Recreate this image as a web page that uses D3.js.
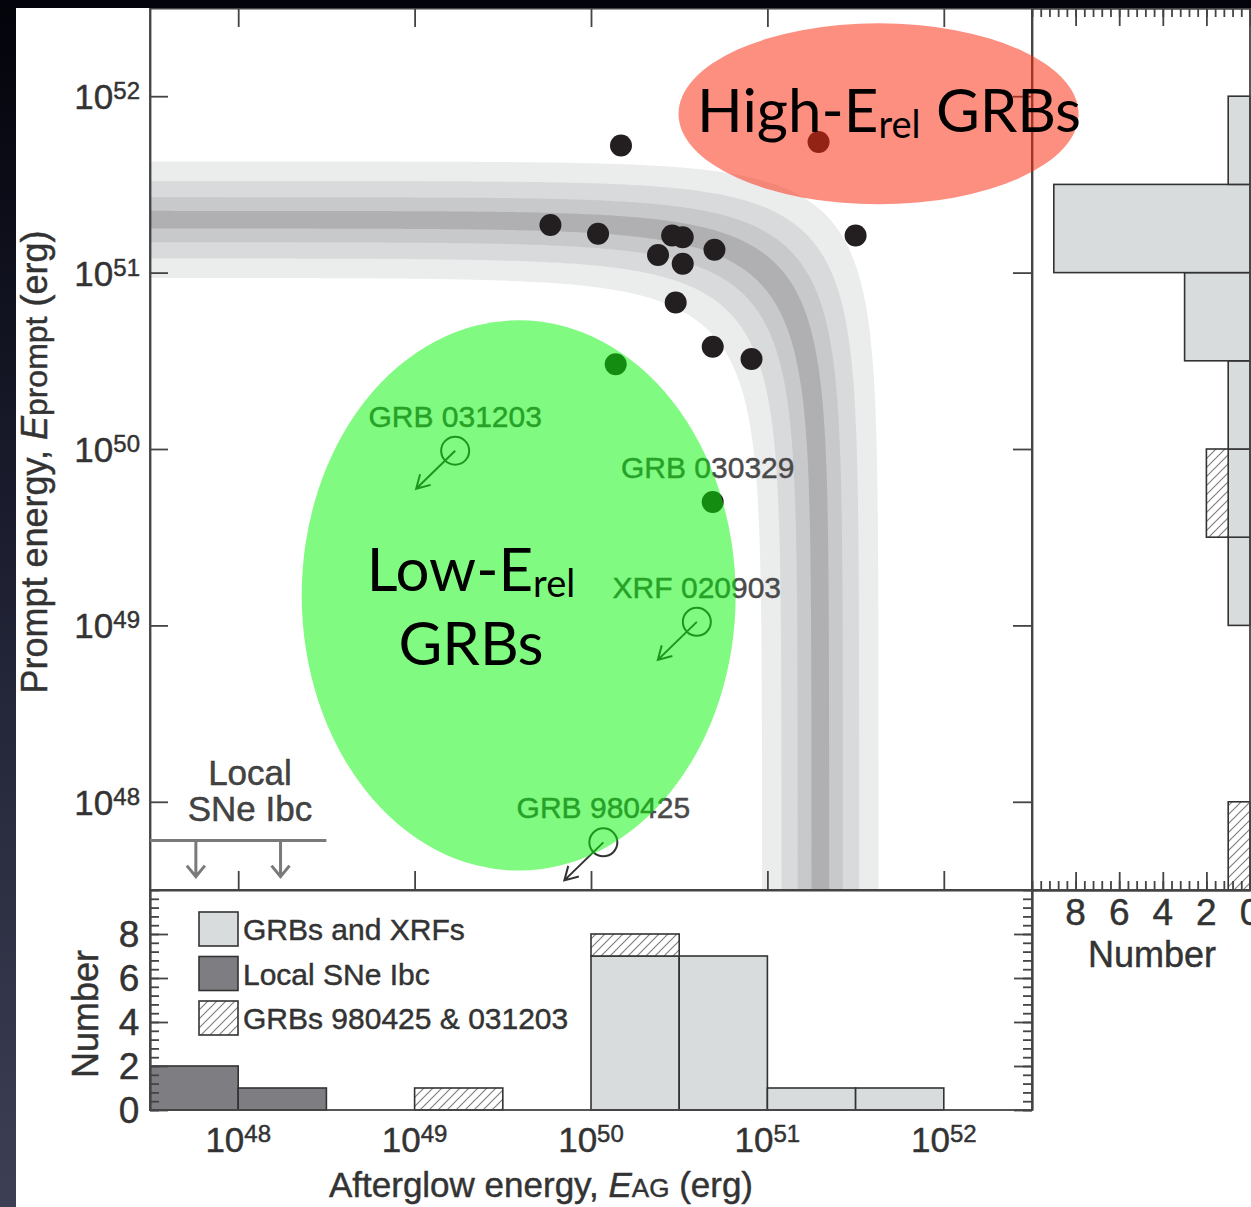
<!DOCTYPE html>
<html lang="en">
<head>
<meta charset="UTF-8">
<title>Prompt vs afterglow energy</title>
<script src="https://d3js.org/d3.v7.min.js"></script>
<style>
  body { margin: 0; background: #000; }
  svg { display: block; }
  .fig { stroke: #333; stroke-width: 0.45; }
</style>
</head>
<body>
<script>

// log10 energies (erg)
const grbAG     = [50.17, 49.77, 50.04, 50.46, 50.52, 50.38, 50.52, 50.70, 50.48, 50.69, 50.91, 51.50, 51.29, 50.14, 50.69];
const grbPrompt = [51.72, 51.27, 51.22, 51.21, 51.20, 51.10, 51.05, 51.13, 50.83, 50.58, 50.51, 51.21, 51.74, 50.48, 49.70];

// upper limits (open circle + arrow)
const ulName   = ['GRB 031203', 'XRF 020903', 'GRB 980425'];
const ulAG     = [49.23, 50.60, 50.07];
const ulPrompt = [49.99, 49.02, 47.77];

// labelled detection
const detName   = ['GRB 030329'];
const detAG     = [50.69];
const detPrompt = [49.70];

// local SNe Ibc limits
const sneAG = [47.76, 48.24];
const sneSpan = [47.5, 48.5];
const snePrompt = 47.78;

// histograms, half-decade bins
const binEdges = [47.5, 48, 48.5, 49, 49.5, 50, 50.5, 51, 51.5, 52];
const agGRB = [0, 0, 0, 0, 0, 7, 7, 1, 1];
const agSNe = [2, 1, 0, 0, 0, 0, 0, 0, 0];
const agPec = [0, 0, 0, 1, 0, 1, 0, 0, 0];
const promptGRB = [0, 0, 0, 1, 1, 1, 3, 9, 1];
const promptSNe = [0, 0, 0, 0, 0, 0, 0, 0, 0];
const promptPec = [1, 0, 0, 0, 1, 0, 0, 0, 0];

const legendNames = ['GRBs and XRFs', 'Local SNe Ibc', 'GRBs 980425 & 031203'];

// constant total energy band E_prompt + E_AG = 10^c
const bandCenter = 51.3;
const bandHalfWidth = [0.33, 0.22, 0.128, 0.05];
const bandColor = ['#ebecec', '#d9dadc', '#c8c9cb', '#b0b0b3'];

const decades = [48, 49, 50, 51, 52];
const countTicks = [0, 2, 4, 6, 8];

// ---------------------------------------------------------------

const W = 1251, H = 1207;
const L = 150, R = 1032, T = 8, B = 890, HB = 1110, RR = 1250;
const font = "'Liberation Sans', Arial, sans-serif";
const ink = '#444';

const svg = d3.select('body').append('svg').attr('width', W).attr('height', H);
const defs = svg.append('defs');

const grad = defs.append('linearGradient').attr('id', 'side')
  .attr('x1', 0).attr('y1', 0).attr('x2', 0).attr('y2', 1);
grad.append('stop').attr('offset', '0%').attr('stop-color', '#03030a');
grad.append('stop').attr('offset', '45%').attr('stop-color', '#1c1e30');
grad.append('stop').attr('offset', '100%').attr('stop-color', '#3d4055');

const hatch = defs.append('pattern').attr('id', 'hatch')
  .attr('patternUnits', 'userSpaceOnUse').attr('width', 9).attr('height', 9);
hatch.append('rect').attr('width', 9).attr('height', 9).attr('fill', '#fff');
hatch.append('path').attr('d', 'M-2,2 l4,-4 M0,9 l9,-9 M7,11 l4,-4')
  .attr('stroke', '#808080').attr('stroke-width', 1.2);

defs.append('clipPath').attr('id', 'plotClip')
  .append('rect').attr('x', L).attr('y', T).attr('width', R - L).attr('height', B - T);

svg.append('rect').attr('width', W).attr('height', H).attr('fill', '#fff');

const x = d3.scaleLog().domain([10 ** 47.5, 10 ** 52.5]).range([L, R]);
const y = d3.scaleLog().domain([10 ** 47.5, 10 ** 52.5]).range([B, T]);
const nb = d3.scaleLinear().domain([0, 10]).range([HB, B]);
const nr = d3.scaleLinear().domain([0, 10]).range([RR, R]);
const X = v => x(10 ** v), Y = v => y(10 ** v);

// bands
function curve(c) {
  const C = 10 ** c;
  return d3.range(-6, 6.001, 0.02).map(u => {
    const t = 1 / (1 + 10 ** (-u));
    return [C * t, C * (1 - t)];
  });
}
const line = d3.line().x(d => x(d[0])).y(d => y(d[1]));
const gBands = svg.append('g').attr('clip-path', 'url(#plotClip)');
bandHalfWidth.forEach((w, i) => {
  const pts = curve(bandCenter + w).concat(curve(bandCenter - w).reverse());
  gBands.append('path').attr('d', line(pts) + 'Z').attr('fill', bandColor[i]);
});

// histograms
const fills = { grb: '#d9dcdc', sne: '#7e7e82', pec: 'url(#hatch)' };
const stack = d3.stack().keys(['sne', 'grb', 'pec']);

const agRows = agGRB.map((v, i) => ({ lo: binEdges[i], hi: binEdges[i + 1], grb: v, sne: agSNe[i], pec: agPec[i] }));
const promptRows = promptGRB.map((v, i) => ({ lo: binEdges[i], hi: binEdges[i + 1], grb: v, sne: promptSNe[i], pec: promptPec[i] }));

const gHistB = svg.append('g');
stack(agRows).forEach(s => {
  gHistB.selectAll(null).data(s.filter(d => d[1] > d[0])).join('rect')
    .attr('x', d => X(d.data.lo))
    .attr('width', d => X(d.data.hi) - X(d.data.lo))
    .attr('y', d => nb(d[1]))
    .attr('height', d => nb(d[0]) - nb(d[1]))
    .attr('fill', fills[s.key]).attr('stroke', '#333').attr('stroke-width', 1.6);
});

const gHistR = svg.append('g');
stack(promptRows).forEach(s => {
  gHistR.selectAll(null).data(s.filter(d => d[1] > d[0])).join('rect')
    .attr('y', d => Y(d.data.hi))
    .attr('height', d => Y(d.data.lo) - Y(d.data.hi))
    .attr('x', d => nr(d[1]))
    .attr('width', d => nr(d[0]) - nr(d[1]))
    .attr('fill', fills[s.key]).attr('stroke', '#333').attr('stroke-width', 1.6);
});

// frames
[[L, T, R, B], [L, B, R, HB], [R, T, RR, B]].forEach(f => {
  svg.append('rect').attr('x', f[0]).attr('y', f[1]).attr('width', f[2] - f[0]).attr('height', f[3] - f[1])
    .attr('fill', 'none').attr('stroke', ink).attr('stroke-width', 1.8);
});

// ticks
function ticks(axis, tx, ty, vals, size) {
  svg.append('g').attr('transform', `translate(${tx},${ty})`)
    .call(axis.tickValues(vals).tickSize(size).tickSizeOuter(0).tickFormat(''))
    .call(g => g.selectAll('text').remove())
    .call(g => g.selectAll('line,path').attr('stroke', ink).attr('stroke-width', 1.8));
}
const decVals = decades.map(d => 10 ** d);
ticks(d3.axisRight(y), L, 0, decVals, 18);
ticks(d3.axisLeft(y), R, 0, decVals, 19);
ticks(d3.axisBottom(x), 0, T, decVals, 19);
ticks(d3.axisTop(x), 0, B, decVals, 19);

const minor = d3.range(0, 10.001, 0.4);
ticks(d3.axisRight(nb), L, 0, minor, 9);
ticks(d3.axisRight(nb), L, 0, countTicks, 18);
ticks(d3.axisLeft(nb), R, 0, minor, 9);
ticks(d3.axisLeft(nb), R, 0, countTicks, 18);
ticks(d3.axisBottom(nr), 0, T, minor, 9);
ticks(d3.axisBottom(nr), 0, T, countTicks, 18);
ticks(d3.axisTop(nr), 0, B, minor, 9);
ticks(d3.axisTop(nr), 0, B, countTicks, 18);

// tick labels
function powLabel(px, py, e, anchor) {
  const t = svg.append('text').attr('class', 'fig').attr('x', px).attr('y', py).attr('text-anchor', anchor)
    .attr('font-family', font).attr('fill', '#333').attr('font-size', 35);
  t.append('tspan').text('10');
  t.append('tspan').attr('font-size', 24).attr('dy', -10).text(e);
}
decades.forEach(e => powLabel(140, Y(e) + 13, e, 'end'));
decades.forEach(e => powLabel(X(e), 1152, e, 'middle'));

svg.append('g').selectAll('text').data(countTicks).join('text').attr('class', 'fig')
  .attr('x', 129).attr('y', d => nb(d) + 13).attr('text-anchor', 'middle')
  .attr('font-family', font).attr('font-size', 37).attr('fill', '#333').text(d => d);
svg.append('g').selectAll('text').data(countTicks).join('text').attr('class', 'fig')
  .attr('x', d => nr(d)).attr('y', 925).attr('text-anchor', 'middle')
  .attr('font-family', font).attr('font-size', 37).attr('fill', '#333').text(d => d);

// axis titles
const yt = svg.append('text').attr('class', 'fig').attr('transform', 'translate(47,462) rotate(-90)')
  .attr('text-anchor', 'middle').attr('font-family', font).attr('font-size', 36).attr('fill', '#333');
yt.append('tspan').text('Prompt energy, ');
yt.append('tspan').attr('font-style', 'italic').text('E');
yt.append('tspan').attr('font-size', 32).text('prompt');
yt.append('tspan').text(' (erg)');

const xt = svg.append('text').attr('class', 'fig').attr('x', 541).attr('y', 1197)
  .attr('text-anchor', 'middle').attr('font-family', font).attr('font-size', 35).attr('fill', '#333');
xt.append('tspan').text('Afterglow energy, ');
xt.append('tspan').attr('font-style', 'italic').text('E');
xt.append('tspan').attr('font-size', 26).text('AG');
xt.append('tspan').text(' (erg)');

svg.append('text').attr('class', 'fig').attr('transform', 'translate(98,1014) rotate(-90)').attr('text-anchor', 'middle')
  .attr('font-family', font).attr('font-size', 36).attr('fill', '#333').text('Number');
svg.append('text').attr('class', 'fig').attr('x', 1152).attr('y', 967).attr('text-anchor', 'middle')
  .attr('font-family', font).attr('font-size', 36).attr('fill', '#333').text('Number');

// legend
const legFill = [fills.grb, fills.sne, fills.pec];
const leg = svg.append('g').selectAll('g').data(legendNames).join('g')
  .attr('transform', (d, i) => `translate(199,${912 + i * 44.5})`);
leg.append('rect').attr('width', 39).attr('height', 34)
  .attr('fill', (d, i) => legFill[i]).attr('stroke', '#333').attr('stroke-width', 1.6);
leg.append('text').attr('class', 'fig').attr('x', 44).attr('y', 28).attr('font-family', font).attr('font-size', 30)
  .attr('fill', '#333').text(d => d);

// local SNe Ibc limits
const gray = '#7a7a7a';
svg.append('line').attr('x1', X(sneSpan[0])).attr('x2', X(sneSpan[1]))
  .attr('y1', Y(snePrompt)).attr('y2', Y(snePrompt)).attr('stroke', gray).attr('stroke-width', 3);
sneAG.forEach(a => {
  const px = X(a), py = Y(snePrompt), tip = py + 36;
  svg.append('path').attr('d', `M${px},${py}V${tip}M${px - 9},${tip - 11}L${px},${tip}L${px + 9},${tip - 11}`)
    .attr('fill', 'none').attr('stroke', gray).attr('stroke-width', 3);
});
svg.append('text').attr('class', 'fig').attr('x', 250).attr('y', 785).attr('text-anchor', 'middle')
  .attr('font-family', font).attr('font-size', 35).attr('fill', '#444').text('Local');
svg.append('text').attr('class', 'fig').attr('x', 250).attr('y', 821).attr('text-anchor', 'middle')
  .attr('font-family', font).attr('font-size', 35).attr('fill', '#444').text('SNe Ibc');

// detections
svg.append('g').selectAll('circle').data(grbAG).join('circle')
  .attr('cx', d => X(d)).attr('cy', (d, i) => Y(grbPrompt[i])).attr('r', 11).attr('fill', '#231f20');

// upper limits
ulAG.forEach((a, i) => {
  const cx = X(a), cy = Y(ulPrompt[i]);
  const tx = cx - 39, ty = cy + 38;
  svg.append('circle').attr('cx', cx).attr('cy', cy).attr('r', 14)
    .attr('fill', 'none').attr('stroke', '#333').attr('stroke-width', 2);
  svg.append('path')
    .attr('d', `M${cx},${cy}L${tx},${ty}M${tx + 14.5},${ty - 3.9}L${tx},${ty}L${tx + 3.9},${ty - 14.5}`)
    .attr('fill', 'none').attr('stroke', '#333').attr('stroke-width', 2);
});

// source labels
const labels = ulName.map((n, i) => ({ n, a: ulAG[i], p: ulPrompt[i], dx: 0 }))
  .concat(detName.map((n, i) => ({ n, a: detAG[i], p: detPrompt[i], dx: -5 })));
svg.append('g').selectAll('text').data(labels).join('text')
  .attr('x', d => X(d.a) + d.dx).attr('y', d => Y(d.p) - 24)
  .attr('text-anchor', 'middle').attr('font-family', font).attr('font-size', 30)
  .attr('fill', '#4a4a4a').attr('stroke', '#4a4a4a').attr('stroke-width', 0.45).text(d => d.n);

// highlight ellipses
const lowCenter = [49.59, 49.17], lowRadius = [1.23, 1.56];
const highCenter = [51.63, 51.90], highRadius = [1.134, 0.513];
svg.append('ellipse').attr('cx', X(lowCenter[0])).attr('cy', Y(lowCenter[1]))
  .attr('rx', X(lowCenter[0] + lowRadius[0]) - X(lowCenter[0]))
  .attr('ry', Y(lowCenter[1] - lowRadius[1]) - Y(lowCenter[1]))
  .attr('fill', 'rgb(5,245,5)').attr('opacity', 0.51);
svg.append('ellipse').attr('cx', X(highCenter[0])).attr('cy', Y(highCenter[1]))
  .attr('rx', X(highCenter[0] + highRadius[0]) - X(highCenter[0]))
  .attr('ry', Y(highCenter[1] - highRadius[1]) - Y(highCenter[1]))
  .attr('fill', 'rgb(252,40,11)').attr('opacity', 0.52);

const big = "'Gill Sans', Lato, 'Open Sans', sans-serif";
const hi = svg.append('text').attr('x', 889).attr('y', 132).attr('text-anchor', 'middle')
  .attr('font-family', big).attr('font-size', 60).attr('fill', '#000');
hi.append('tspan').text('High-E');
hi.append('tspan').attr('font-size', 38).attr('dy', 6).text('rel');
hi.append('tspan').attr('dy', -6).text(' GRBs');

const lo = svg.append('text').attr('x', 471).attr('y', 591).attr('text-anchor', 'middle')
  .attr('font-family', big).attr('font-size', 60).attr('fill', '#000');
lo.append('tspan').text('Low-E');
lo.append('tspan').attr('font-size', 38).attr('dy', 6).text('rel');
svg.append('text').attr('x', 471).attr('y', 665).attr('text-anchor', 'middle')
  .attr('font-family', big).attr('font-size', 60).attr('fill', '#000').text('GRBs');

// slide edges
svg.append('rect').attr('width', 16).attr('height', H).attr('fill', 'url(#side)');
svg.append('rect').attr('width', W).attr('height', T).attr('fill', '#04040c');

</script>
</body>
</html>
